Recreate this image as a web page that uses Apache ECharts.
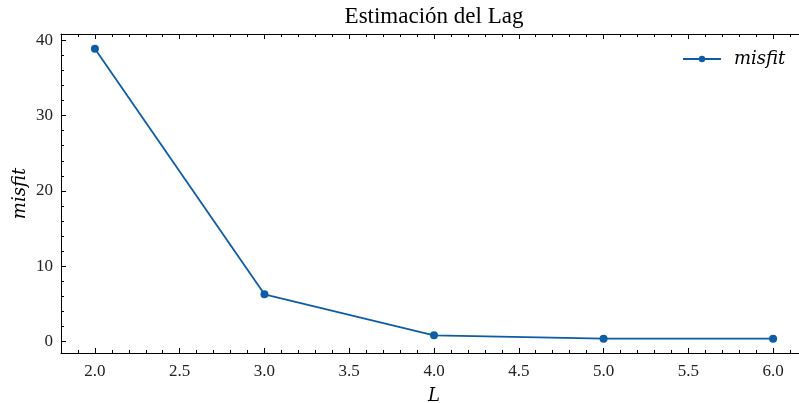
<!DOCTYPE html>
<html>
<head>
<meta charset="utf-8">
<script src="https://cdn.jsdelivr.net/npm/echarts@6/dist/echarts.min.js"></script>
<style>
  html, body { margin: 0; padding: 0; background: #fff; }
  #chart { width: 799px; height: 403px; }
</style>
</head>
<body>
<div id="chart"></div>
<script>
// Lag values and the misfit obtained for each one
const lags = [2, 3, 4, 5, 6];
const misfit = [38.9, 6.25, 0.8, 0.35, 0.35];

// Tick positions
const xMajor = [2.0, 2.5, 3.0, 3.5, 4.0, 4.5, 5.0, 5.5, 6.0];
const xMinor = [1.9, 2.1, 2.2, 2.3, 2.4, 2.6, 2.7, 2.8, 2.9, 3.1, 3.2, 3.3, 3.4,
                3.6, 3.7, 3.8, 3.9, 4.1, 4.2, 4.3, 4.4, 4.6, 4.7, 4.8, 4.9,
                5.1, 5.2, 5.3, 5.4, 5.6, 5.7, 5.8, 5.9, 6.1];
const yMajor = [0, 10, 20, 30, 40];
const yMinor = [2, 4, 6, 8, 12, 14, 16, 18, 22, 24, 26, 28, 32, 34, 36, 38];

const X_MIN = 1.8, X_MAX = 6.2;
const Y_MIN = -1.55, Y_MAX = 40.85;

const FONT = 'Liberation Serif';
const MATH = 'DejaVu Serif';
const INK = '#000';
const BLUE = '#0C5DA5';

function makeX(pos, ticks, len, showLine, showLabels, name) {
  return {
    type: 'value', position: pos, min: X_MIN, max: X_MAX,
    name: name || '', nameLocation: 'middle', nameGap: 34,
    nameTextStyle: { fontFamily: MATH, fontStyle: 'italic', fontSize: 18, color: INK },
    axisLine: { show: showLine, onZero: false, lineStyle: { color: INK, width: 1 } },
    axisTick: { show: true, inside: true, length: len, customValues: ticks,
                lineStyle: { color: INK, width: 1 } },
    axisLabel: { show: showLabels, customValues: ticks, margin: 10,
                 fontFamily: FONT, fontSize: 17, color: '#222',
                 formatter: v => Number(v).toFixed(1) },
    splitLine: { show: false }
  };
}
function makeY(pos, ticks, len, showLine, showLabels, name) {
  return {
    type: 'value', position: pos, min: Y_MIN, max: Y_MAX,
    name: name || '', nameLocation: 'middle', nameGap: 32, nameMoveOverlap: false,
    nameTextStyle: { fontFamily: MATH, fontStyle: 'italic', fontSize: 18, color: INK },
    axisLine: { show: showLine, onZero: false, lineStyle: { color: INK, width: 1 } },
    axisTick: { show: true, inside: true, length: len, customValues: ticks,
                lineStyle: { color: INK, width: 1 } },
    axisLabel: { show: showLabels, customValues: ticks, margin: 8,
                 fontFamily: FONT, fontSize: 17, color: '#222',
                 formatter: v => String(Math.round(v)) },
    splitLine: { show: false }
  };
}

const chart = echarts.init(document.getElementById('chart'), null, { renderer: 'canvas' });
chart.setOption({
  animation: false,
  backgroundColor: '#fff',
  title: {
    text: 'Estimación del Lag', left: 429, top: 0, textAlign: 'center',
    textStyle: { fontFamily: FONT, fontWeight: 'normal', fontSize: 23, color: INK }
  },
  legend: {
    data: ['misfit'], left: 682, top: 50, padding: 0, itemWidth: 38, itemHeight: 8,
    textStyle: { fontFamily: MATH, fontStyle: 'italic', fontSize: 18, color: INK,
                 padding: [0, 0, 0, 8] }
  },
  grid: { left: 61, top: 34, width: 746, height: 319, outerBoundsMode: 'none' },
  xAxis: [
    makeX('bottom', xMajor, 5, true, true, 'L'),
    makeX('bottom', xMinor, 3, false, false),
    makeX('top', xMajor, 5, true, false),
    makeX('top', xMinor, 3, false, false)
  ],
  yAxis: [
    makeY('left', yMajor, 5, true, true, 'misfit'),
    makeY('left', yMinor, 3, false, false),
    makeY('right', yMajor, 5, true, false),
    makeY('right', yMinor, 3, false, false)
  ],
  series: [{
    name: 'misfit', type: 'line', xAxisIndex: 0, yAxisIndex: 0,
    data: lags.map((l, i) => [l, misfit[i]]),
    symbol: 'circle', symbolSize: 8,
    lineStyle: { color: BLUE, width: 1.8 },
    itemStyle: { color: BLUE }
  }]
});
</script>
</body>
</html>
